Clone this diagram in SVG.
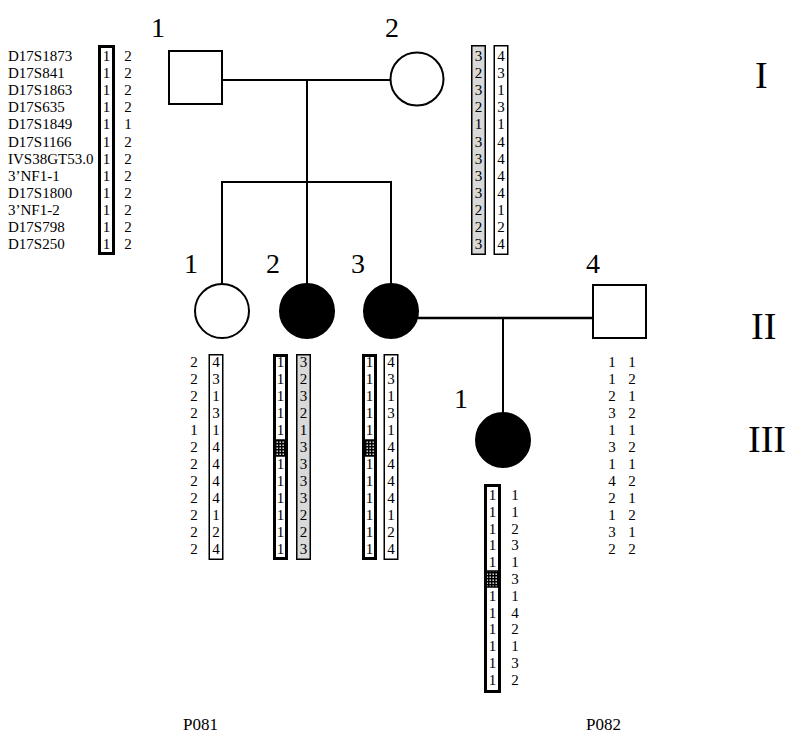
<svg xmlns="http://www.w3.org/2000/svg" width="801" height="740" viewBox="0 0 801 740">
<style>
.t{font-family:"Liberation Serif","Times New Roman",serif;fill:#000}
.lbl{font-size:28px}
.gen{font-size:38px}
.mk{font-size:15px}
.n{font-size:15px;text-anchor:middle}
.shape{fill:#fff;stroke:#000;stroke-width:2}
.aff{fill:#000;stroke:#000;stroke-width:2}
.ln{stroke:#000;stroke-width:2;fill:none}
.thick{fill:#fff;stroke:#000;stroke-width:3}
.thin{fill:#fff;stroke:#000;stroke-width:1.5}
.grey{fill:#d9d9d9;stroke:#000;stroke-width:1.5}
.dot{fill:url(#dots);stroke:#000;stroke-width:1.5}
</style>
<defs>
<pattern id="dots" width="3" height="3" patternUnits="userSpaceOnUse">
<rect width="3" height="3" fill="#000"/>
<rect x="0.5" y="0.5" width="1.4" height="1.4" fill="#fff"/>
</pattern>
</defs>
<rect width="801" height="740" fill="#fff"/>

<g id="connectors">
<line class="ln" x1="222" y1="80" x2="391" y2="80"/>
<line class="ln" x1="307" y1="80" x2="307" y2="182"/>
<line class="ln" x1="221" y1="182" x2="392" y2="182"/>
<line class="ln" x1="222" y1="182" x2="222" y2="284"/>
<line class="ln" x1="307" y1="182" x2="307" y2="284"/>
<line class="ln" x1="391" y1="182" x2="391" y2="284"/>
<line class="ln" x1="418" y1="318" x2="593" y2="318" style="stroke-width:2.5"/>
<line class="ln" x1="503" y1="318" x2="503" y2="413"/>
</g>

<g id="markers" class="t mk">
<text x="8" y="61">D17S1873</text>
<text x="8" y="78.1">D17S841</text>
<text x="8" y="95.2">D17S1863</text>
<text x="8" y="112.3">D17S635</text>
<text x="8" y="129.4">D17S1849</text>
<text x="8" y="146.5">D17S1166</text>
<text x="8" y="163.6">IVS38GT53.0</text>
<text x="8" y="180.7">3’NF1-1</text>
<text x="8" y="197.8">D17S1800</text>
<text x="8" y="214.9">3’NF1-2</text>
<text x="8" y="232">D17S798</text>
<text x="8" y="249.1">D17S250</text>
</g>

<g id="I-1">
<text class="t lbl" x="151" y="37">1</text>
<rect class="shape" x="169" y="51" width="53" height="53"/>
<rect class="thick" x="99.5" y="46.5" width="14" height="207"/>
<g class="t n">
<text x="106.5" y="61">1</text><text x="106.5" y="78.1">1</text><text x="106.5" y="95.2">1</text><text x="106.5" y="112.3">1</text><text x="106.5" y="129.4">1</text><text x="106.5" y="146.5">1</text><text x="106.5" y="163.6">1</text><text x="106.5" y="180.7">1</text><text x="106.5" y="197.8">1</text><text x="106.5" y="214.9">1</text><text x="106.5" y="232">1</text><text x="106.5" y="249.1">1</text>
<text x="128" y="61">2</text><text x="128" y="78.1">2</text><text x="128" y="95.2">2</text><text x="128" y="112.3">2</text><text x="128" y="129.4">1</text><text x="128" y="146.5">2</text><text x="128" y="163.6">2</text><text x="128" y="180.7">2</text><text x="128" y="197.8">2</text><text x="128" y="214.9">2</text><text x="128" y="232">2</text><text x="128" y="249.1">2</text>
</g>
</g>

<g id="I-2">
<text class="t lbl" x="385" y="37">2</text>
<circle class="shape" cx="417" cy="79" r="26.5"/>
<rect class="grey" x="471.75" y="45.75" width="13.5" height="208.5"/>
<rect class="thin" x="494.25" y="45.75" width="13.5" height="208.5"/>
<g class="t n">
<text x="478.5" y="61">3</text><text x="478.5" y="78.1">2</text><text x="478.5" y="95.2">3</text><text x="478.5" y="112.3">2</text><text x="478.5" y="129.4">1</text><text x="478.5" y="146.5">3</text><text x="478.5" y="163.6">3</text><text x="478.5" y="180.7">3</text><text x="478.5" y="197.8">3</text><text x="478.5" y="214.9">2</text><text x="478.5" y="232">2</text><text x="478.5" y="249.1">3</text>
<text x="501" y="61">4</text><text x="501" y="78.1">3</text><text x="501" y="95.2">1</text><text x="501" y="112.3">3</text><text x="501" y="129.4">1</text><text x="501" y="146.5">4</text><text x="501" y="163.6">4</text><text x="501" y="180.7">4</text><text x="501" y="197.8">4</text><text x="501" y="214.9">1</text><text x="501" y="232">2</text><text x="501" y="249.1">4</text>
</g>
</g>

<g id="II-1">
<text class="t lbl" x="184" y="273">1</text>
<circle class="shape" cx="222" cy="311" r="27"/>
<rect class="thin" x="209.25" y="354.75" width="13.5" height="204.5"/>
<g class="t n">
<text x="194" y="367">2</text><text x="194" y="384">2</text><text x="194" y="401">2</text><text x="194" y="418">2</text><text x="194" y="435">1</text><text x="194" y="452">2</text><text x="194" y="469">2</text><text x="194" y="486">2</text><text x="194" y="503">2</text><text x="194" y="520">2</text><text x="194" y="537">2</text><text x="194" y="554">2</text>
<text x="216" y="367">4</text><text x="216" y="384">3</text><text x="216" y="401">1</text><text x="216" y="418">3</text><text x="216" y="435">1</text><text x="216" y="452">4</text><text x="216" y="469">4</text><text x="216" y="486">4</text><text x="216" y="503">4</text><text x="216" y="520">1</text><text x="216" y="537">2</text><text x="216" y="554">4</text>
</g>
</g>

<g id="II-2">
<text class="t lbl" x="266" y="273">2</text>
<circle class="aff" cx="307" cy="311" r="27"/>
<rect class="thick" x="274.5" y="355.5" width="12" height="203"/>
<rect class="dot" x="275.25" y="440" width="10.5" height="16"/>
<rect class="grey" x="296.75" y="354.75" width="13.5" height="204.5"/>
<g class="t n">
<text x="280.5" y="367">1</text><text x="280.5" y="384">1</text><text x="280.5" y="401">1</text><text x="280.5" y="418">1</text><text x="280.5" y="435">1</text><text x="280.5" y="469">1</text><text x="280.5" y="486">1</text><text x="280.5" y="503">1</text><text x="280.5" y="520">1</text><text x="280.5" y="537">1</text><text x="280.5" y="554">1</text>
<text x="303.5" y="367">3</text><text x="303.5" y="384">2</text><text x="303.5" y="401">3</text><text x="303.5" y="418">2</text><text x="303.5" y="435">1</text><text x="303.5" y="452">3</text><text x="303.5" y="469">3</text><text x="303.5" y="486">3</text><text x="303.5" y="503">3</text><text x="303.5" y="520">2</text><text x="303.5" y="537">2</text><text x="303.5" y="554">3</text>
</g>
</g>

<g id="II-3">
<text class="t lbl" x="351" y="273">3</text>
<circle class="aff" cx="391" cy="311" r="27"/>
<rect class="thick" x="363.5" y="355.5" width="12" height="203"/>
<rect class="dot" x="364.25" y="440" width="10.5" height="16"/>
<rect class="thin" x="384.25" y="354.75" width="13.5" height="204.5"/>
<g class="t n">
<text x="369.5" y="367">1</text><text x="369.5" y="384">1</text><text x="369.5" y="401">1</text><text x="369.5" y="418">1</text><text x="369.5" y="435">1</text><text x="369.5" y="469">1</text><text x="369.5" y="486">1</text><text x="369.5" y="503">1</text><text x="369.5" y="520">1</text><text x="369.5" y="537">1</text><text x="369.5" y="554">1</text>
<text x="391" y="367">4</text><text x="391" y="384">3</text><text x="391" y="401">1</text><text x="391" y="418">3</text><text x="391" y="435">1</text><text x="391" y="452">4</text><text x="391" y="469">4</text><text x="391" y="486">4</text><text x="391" y="503">4</text><text x="391" y="520">1</text><text x="391" y="537">2</text><text x="391" y="554">4</text>
</g>
</g>

<g id="II-4">
<text class="t lbl" x="586" y="273">4</text>
<rect class="shape" x="593" y="285" width="53" height="53"/>
<g class="t n">
<text x="612" y="367">1</text><text x="612" y="384">1</text><text x="612" y="401">2</text><text x="612" y="418">3</text><text x="612" y="435">1</text><text x="612" y="452">3</text><text x="612" y="469">1</text><text x="612" y="486">4</text><text x="612" y="503">2</text><text x="612" y="520">1</text><text x="612" y="537">3</text><text x="612" y="554">2</text>
<text x="632" y="367">1</text><text x="632" y="384">2</text><text x="632" y="401">1</text><text x="632" y="418">2</text><text x="632" y="435">1</text><text x="632" y="452">2</text><text x="632" y="469">1</text><text x="632" y="486">2</text><text x="632" y="503">1</text><text x="632" y="520">2</text><text x="632" y="537">1</text><text x="632" y="554">2</text>
</g>
</g>

<g id="III-1">
<text class="t lbl" x="454" y="408">1</text>
<circle class="aff" cx="503" cy="440" r="27"/>
<rect class="thick" x="485.5" y="485.5" width="14" height="206"/>
<rect class="dot" x="486.25" y="571" width="12.5" height="16"/>
<g class="t n">
<text x="492.5" y="500">1</text><text x="492.5" y="516.8">1</text><text x="492.5" y="533.6">1</text><text x="492.5" y="550.4">1</text><text x="492.5" y="567.2">1</text><text x="492.5" y="600.8">1</text><text x="492.5" y="617.6">1</text><text x="492.5" y="634.4">1</text><text x="492.5" y="651.2">1</text><text x="492.5" y="668">1</text><text x="492.5" y="684.8">1</text>
<text x="515" y="500">1</text><text x="515" y="516.8">1</text><text x="515" y="533.6">2</text><text x="515" y="550.4">3</text><text x="515" y="567.2">1</text><text x="515" y="584">3</text><text x="515" y="600.8">1</text><text x="515" y="617.6">4</text><text x="515" y="634.4">2</text><text x="515" y="651.2">1</text><text x="515" y="668">3</text><text x="515" y="684.8">2</text>
</g>
</g>

<g id="generations" class="t gen">
<text x="755" y="88">I</text>
<text x="751" y="339">II</text>
<text x="748" y="452">III</text>
</g>

<g id="families" class="t" style="font-size:17px">
<text x="183" y="730">P081</text>
<text x="586" y="730">P082</text>
</g>
</svg>
